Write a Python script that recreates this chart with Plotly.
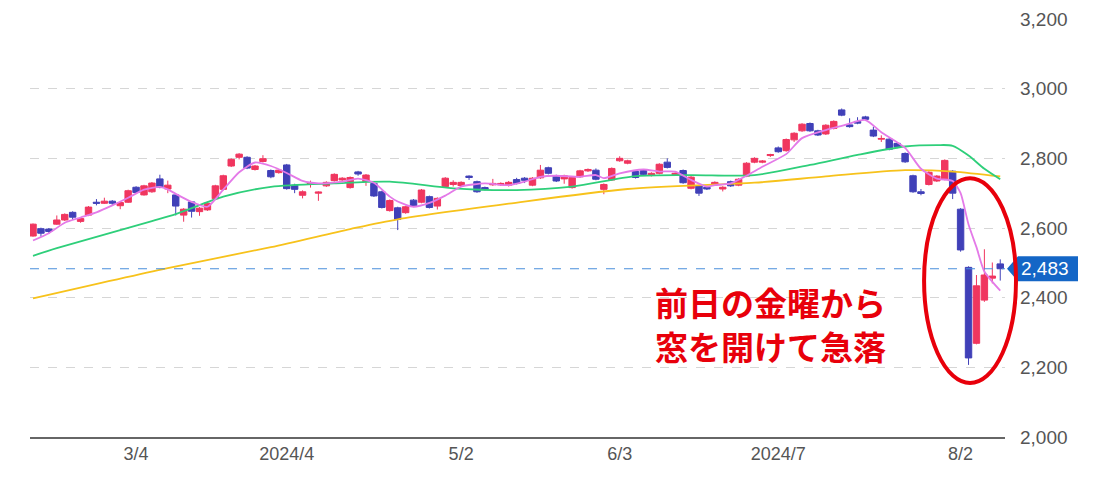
import plotly.graph_objects as go

# -----------------------------
# Trading days (Feb 13 - Aug 9, 2024)
# -----------------------------
feb_days = [13, 14, 15, 16, 19, 20, 21, 22, 26, 27, 28, 29]
mar_days = [1, 4, 5, 6, 7, 8, 11, 12, 13, 14, 15, 18, 19, 21, 22, 25, 26, 27, 28, 29]
apr_days = [1, 2, 3, 4, 5, 8, 9, 10, 11, 12, 15, 16, 17, 18, 19, 22, 23, 24, 25, 26, 30]
may_days = [1, 2, 7, 8, 9, 10, 13, 14, 15, 16, 17, 20, 21, 22, 23, 24, 27, 28, 29, 30, 31]
jun_days = [3, 4, 5, 6, 7, 10, 11, 12, 13, 14, 17, 18, 19, 20, 21, 24, 25, 26, 27, 28]
jul_days = [1, 2, 3, 4, 5, 8, 9, 10, 11, 12, 16, 17, 18, 19, 22, 23, 24, 25, 26, 29, 30, 31]
aug_days = [1, 2, 5, 6, 7, 8, 9]

dates = []
for m, days in [(2, feb_days), (3, mar_days), (4, apr_days), (5, may_days),
                (6, jun_days), (7, jul_days), (8, aug_days)]:
    dates += ["2024-%02d-%02d" % (m, d) for d in days]

# -----------------------------
# OHLC
# -----------------------------
open_ = [2577, 2598, 2597, 2611, 2623, 2645, 2619, 2637, 2674, 2671, 2677, 2664, 2674, 2717, 2695, 2704,
         2741, 2712, 2695, 2637, 2675, 2647, 2652, 2684, 2711, 2778, 2803, 2803, 2768, 2791, 2765, 2759,
         2781, 2723, 2694, 2726, 2700, 2721, 2736, 2738, 2716, 2761, 2733, 2728, 2704, 2650, 2658, 2644,
         2680, 2674, 2690, 2663, 2719, 2725, 2722, 2749, 2733, 2716, 2724, 2724, 2723, 2739, 2743, 2723,
         2744, 2773, 2750, 2741, 2716, 2747, 2764, 2766, 2711, 2738, 2793, 2786, 2762, 2765, 2751, 2757,
         2789, 2753, 2765, 2714, 2721, 2717, 2725, 2712, 2733, 2723, 2749, 2789, 2789, 2808, 2830, 2822,
         2853, 2879, 2900, 2879, 2870, 2886, 2939, 2896, 2906, 2919, 2881, 2855, 2855, 2843, 2814, 2750,
         2704, 2725, 2735, 2740, 2763, 2654, 2487, 2269, 2393, 2456, 2497]
high = [2613, 2601, 2600, 2636, 2642, 2648, 2630, 2663, 2683, 2687, 2680, 2675, 2710, 2720, 2724, 2732,
        2753, 2736, 2698, 2657, 2677, 2660, 2676, 2724, 2753, 2800, 2815, 2806, 2781, 2809, 2768, 2769,
        2784, 2727, 2708, 2736, 2705, 2734, 2757, 2746, 2748, 2764, 2755, 2731, 2707, 2682, 2661, 2664,
        2683, 2712, 2693, 2688, 2746, 2737, 2734, 2751, 2736, 2719, 2741, 2731, 2735, 2744, 2746, 2746,
        2781, 2776, 2753, 2753, 2748, 2767, 2771, 2771, 2728, 2774, 2806, 2796, 2765, 2768, 2760, 2786,
        2800, 2760, 2768, 2749, 2724, 2720, 2734, 2720, 2736, 2743, 2789, 2803, 2795, 2813, 2834, 2857,
        2875, 2901, 2903, 2882, 2898, 2909, 2943, 2915, 2918, 2922, 2891, 2866, 2858, 2846, 2817, 2753,
        2712, 2763, 2752, 2797, 2766, 2657, 2490, 2465, 2539, 2501, 2510]
low = [2575, 2575, 2583, 2609, 2620, 2623, 2615, 2634, 2665, 2669, 2666, 2654, 2672, 2699, 2693, 2701,
       2714, 2700, 2636, 2618, 2630, 2635, 2649, 2681, 2708, 2775, 2797, 2769, 2765, 2788, 2743, 2756,
       2710, 2700, 2685, 2716, 2678, 2718, 2733, 2733, 2713, 2750, 2721, 2689, 2656, 2647, 2594, 2641,
       2660, 2671, 2656, 2653, 2716, 2719, 2719, 2738, 2701, 2708, 2721, 2721, 2719, 2725, 2729, 2720,
       2741, 2754, 2732, 2727, 2713, 2744, 2761, 2737, 2697, 2735, 2790, 2783, 2742, 2751, 2748, 2754,
       2771, 2750, 2727, 2711, 2692, 2709, 2722, 2705, 2718, 2720, 2746, 2786, 2786, 2804, 2816, 2819,
       2847, 2876, 2876, 2864, 2867, 2883, 2921, 2888, 2898, 2908, 2861, 2847, 2823, 2829, 2787, 2701,
       2694, 2722, 2732, 2737, 2683, 2532, 2207, 2266, 2388, 2441, 2449]
close = [2611, 2585, 2590, 2623, 2639, 2631, 2627, 2660, 2671, 2677, 2671, 2673, 2707, 2702, 2721, 2729,
         2717, 2723, 2663, 2654, 2648, 2657, 2671, 2721, 2750, 2797, 2812, 2772, 2778, 2799, 2747, 2766,
         2713, 2711, 2704, 2730, 2703, 2731, 2754, 2743, 2745, 2755, 2752, 2692, 2659, 2679, 2625, 2661,
         2663, 2709, 2659, 2685, 2743, 2731, 2731, 2745, 2704, 2711, 2728, 2728, 2731, 2728, 2737, 2743,
         2766, 2757, 2735, 2750, 2745, 2764, 2768, 2740, 2725, 2771, 2800, 2793, 2745, 2754, 2757, 2783,
         2774, 2757, 2730, 2746, 2700, 2712, 2731, 2717, 2721, 2740, 2786, 2800, 2792, 2811, 2819, 2854,
         2872, 2898, 2879, 2867, 2895, 2906, 2924, 2891, 2901, 2912, 2864, 2857, 2826, 2833, 2790, 2704,
         2699, 2760, 2749, 2794, 2700, 2537, 2227, 2434, 2465, 2462, 2483]

# -----------------------------
# Moving averages (index into dates)
# -----------------------------
ma5_idx = [0, 2, 4, 6, 8, 10, 12, 14, 16, 17, 18, 20, 22, 24, 26, 28, 30, 32, 34, 36, 39, 41, 43,
           45, 46, 48, 50, 52, 54, 57, 60, 62, 64, 66, 69, 71, 72, 74, 77, 79, 81, 83, 85, 86, 88,
           90, 92, 95, 97, 100, 102, 105, 107, 110, 112, 114, 116, 117, 118, 119, 120, 122]
ma5_val = [2564, 2585, 2615, 2630, 2645, 2665, 2687, 2710, 2718, 2711, 2698, 2675, 2661, 2710, 2760,
           2788, 2778, 2758, 2735, 2728, 2733, 2742, 2730, 2690, 2676, 2661, 2672, 2693, 2719, 2728,
           2723, 2733, 2747, 2750, 2747, 2752, 2743, 2757, 2768, 2762, 2762, 2738, 2719, 2723, 2728,
           2750, 2776, 2812, 2858, 2881, 2893, 2910, 2875, 2830, 2770, 2742, 2735, 2700, 2610, 2545,
           2475, 2420]

ma25_idx = [0, 3, 15, 18, 24, 30, 38, 45, 53, 61, 68, 76, 83, 91, 98, 104, 110, 114, 116, 118, 120, 122]
ma25_val = [2520, 2542, 2620, 2640, 2690, 2718, 2728, 2733, 2714, 2709, 2719, 2749, 2752, 2752, 2781,
            2810, 2834, 2838, 2836, 2808, 2770, 2740]

ma75_idx = [0, 17, 30, 40, 46, 60, 75, 91, 100, 110, 116, 122]
ma75_val = [2398, 2485, 2545, 2597, 2625, 2670, 2712, 2730, 2748, 2766, 2762, 2748]

tick_dates = ["2024-03-04", "2024-04-01", "2024-05-02", "2024-06-03", "2024-07-01", "2024-08-02"]
tick_text = ["3/4", "2024/4", "5/2", "6/3", "2024/7", "8/2"]

note_lines = ["前日の金曜から", "窓を開けて急落"]

# -----------------------------
# Create chart
# -----------------------------
fig = go.Figure()

fig.add_trace(go.Candlestick(
    x=dates, open=open_, high=high, low=low, close=close,
    increasing=dict(line=dict(color="#f0365f", width=1), fillcolor="#f0365f"),
    decreasing=dict(line=dict(color="#4040b8", width=1), fillcolor="#4040b8"),
    showlegend=False, hoverinfo="skip"
))

fig.add_trace(go.Scatter(
    x=[dates[i] for i in ma75_idx], y=ma75_val, mode="lines",
    line=dict(color="#f7c21b", width=1.8, shape="spline", smoothing=0.8),
    showlegend=False, hoverinfo="skip"
))
fig.add_trace(go.Scatter(
    x=[dates[i] for i in ma25_idx], y=ma25_val, mode="lines",
    line=dict(color="#2ecf7a", width=1.8, shape="spline", smoothing=0.8),
    showlegend=False, hoverinfo="skip"
))
fig.add_trace(go.Scatter(
    x=[dates[i] for i in ma5_idx], y=ma5_val, mode="lines",
    line=dict(color="#e47ae8", width=1.8, shape="spline", smoothing=0.6),
    showlegend=False, hoverinfo="skip"
))

# latest price line and label
last = close[-1]
fig.add_shape(type="line", xref="paper", yref="y", x0=0, x1=1, y0=last, y1=last,
              line=dict(color="#4a8fdc", width=1.2, dash="dash"))
fig.add_shape(type="path", xref="paper", yref="y", xanchor=1.0, yanchor=last,
              xsizemode="pixel", ysizemode="pixel",
              path="M 2 0 L 13 12.5 L 73 12.5 L 73 -12.5 L 13 -12.5 Z",
              fillcolor="#1466c6", line=dict(width=0))
fig.add_annotation(x=1.041, y=last, xref="paper", yref="y", text="{:,}".format(last),
                   showarrow=False, xanchor="center", yanchor="middle",
                   font=dict(color="white", size=19, family="Liberation Sans, Arial"))

# callout
fig.add_shape(type="circle", xref="paper", yref="y",
              x0=0.917, x1=1.0113, y0=2155, y1=2743,
              line=dict(color="#e8000b", width=4))
for txt, yv in zip(note_lines, [2388, 2261]):
    fig.add_annotation(x=0.759, y=yv, xref="paper", yref="y", text="<b>" + txt + "</b>",
                       showarrow=False, xanchor="center", yanchor="middle",
                       font=dict(color="#e8000b", size=33, family="Noto Sans CJK JP"))

# -----------------------------
# Layout (page body has an 8px margin, so the figure is shifted by it)
# -----------------------------
fig.update_layout(
    width=1087, height=474,
    margin=dict(l=22, r=90, t=11, b=45),
    plot_bgcolor="white", paper_bgcolor="white",
    boxgap=0.1, boxgroupgap=0.1,
    font=dict(family="Liberation Sans, Arial", color="#555555"),
    xaxis=dict(
        type="category", categoryorder="array", categoryarray=dates,
        range=[-0.38, 122.6], rangeslider=dict(visible=False),
        tickvals=tick_dates, ticktext=tick_text, tickfont=dict(size=18),
        showgrid=False, showline=True, linecolor="#666666", linewidth=1.5,
        ticks="", fixedrange=True, automargin=False
    ),
    yaxis=dict(
        side="right", range=[2000, 3200], dtick=200, tickformat=",",
        tickfont=dict(size=19), ticks="", ticklabelstandoff=14,
        showgrid=True, gridcolor="#d6d6d6", griddash="dash", zeroline=False,
        automargin=False
    ),
)

fig.write_html("out.html")
